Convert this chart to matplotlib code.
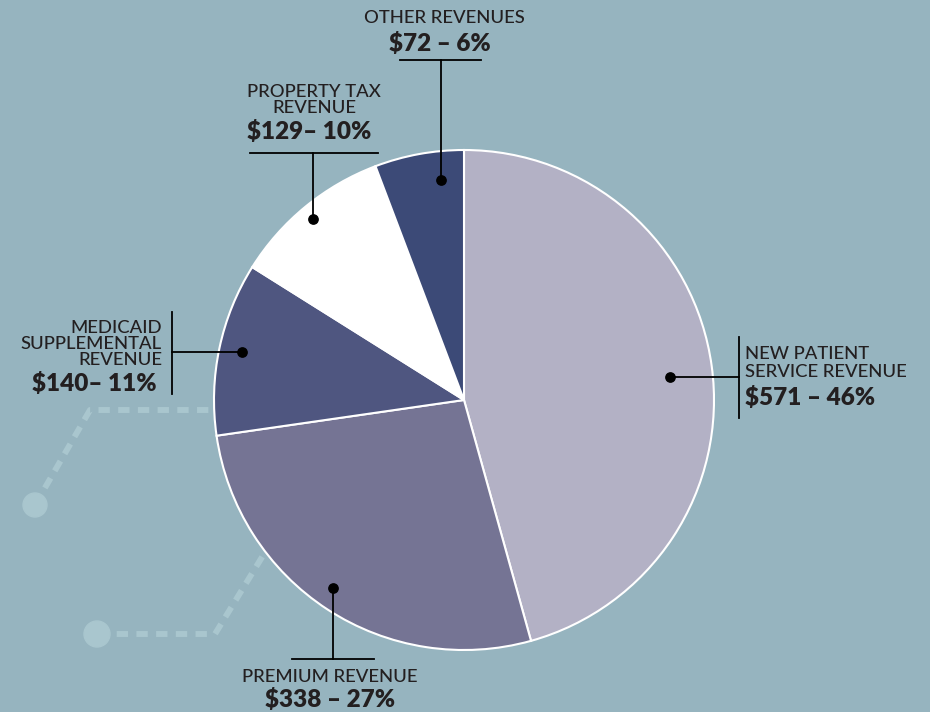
import matplotlib
matplotlib.use("Agg")
import matplotlib.pyplot as plt
from matplotlib.patches import Circle

# data
names = ["NEW PATIENT\nSERVICE REVENUE", "PREMIUM REVENUE",
         "MEDICAID\nSUPPLEMENTAL\nREVENUE", "PROPERTY TAX\nREVENUE",
         "OTHER REVENUES"]
amounts = [571, 338, 140, 129, 72]
value_labels = ["$571 – 46%", "$338 – 27%", "$140– 11%", "$129– 10%", "$72 – 6%"]
colors = ["#B3B1C5", "#757494", "#4F5680", "#FFFFFF", "#3C4A77"]

BG = "#96B4BF"
TXT = "#231F20"
DECO = "#A9C6CE"
NAME_FS = 13.3
VAL_FS = 17.5

plt.rcParams['font.family'] = ['Lato', 'DejaVu Sans']

fig = plt.figure(figsize=(9.3, 7.12), dpi=100, facecolor=BG)
ax = fig.add_axes([0, 0, 1, 1])
ax.set_facecolor(BG)

# y axis is inverted below, so counterclock in data == clockwise on screen
wedges, _ = ax.pie(amounts, colors=colors, startangle=-90, counterclock=True,
                   center=(464, 400), radius=250,
                   wedgeprops=dict(edgecolor="white", linewidth=1.5))
for w in wedges:
    w.set_zorder(2)

# pie() resets limits, so set pixel coords (y down) afterwards
ax.set_xlim(0, 930)
ax.set_ylim(712, 0)
ax.set_aspect("equal")
ax.axis("off")

# decorative dashed paths behind the pie
for xs, ys, cx, cy, r in [([35, 90, 300], [505, 410, 410], 35, 505, 12),
                          ([97, 215, 300], [634, 634, 495], 97, 634, 13)]:
    ax.plot(xs, ys, color=DECO, lw=4.3, dashes=(1.9, 1.4),
            solid_capstyle="butt", zorder=1)
    ax.add_patch(Circle((cx, cy), r, color=DECO, zorder=1))

line_kw = dict(color="black", lw=1.3, zorder=4)
dot_kw = dict(color="black", zorder=5, s=45)
name_kw = dict(fontsize=NAME_FS, color=TXT, fontweight="medium")
val_kw = dict(fontsize=VAL_FS, color=TXT, fontweight="heavy")

# new patient service revenue
ax.plot([670, 739], [377, 377], **line_kw)
ax.plot([739, 739], [337, 418], **line_kw)
ax.scatter([670], [377], **dot_kw)
ax.text(745, 363, names[0], ha="left", va="center", linespacing=1.17, **name_kw)
ax.text(745, 397, value_labels[0], ha="left", va="center", **val_kw)

# premium revenue
ax.plot([333, 333], [588, 659], **line_kw)
ax.plot([292, 374], [659, 659], **line_kw)
ax.scatter([333], [588], **dot_kw)
ax.text(330, 677, names[1], ha="center", va="center", **name_kw)
ax.text(330, 699, value_labels[1], ha="center", va="center", **val_kw)

# medicaid supplemental revenue
ax.plot([172, 242], [352, 352], **line_kw)
ax.plot([172, 172], [312, 394], **line_kw)
ax.scatter([242], [352], **dot_kw)
ax.text(162, 344, names[2], ha="right", va="center", linespacing=0.98, **name_kw)
ax.text(157, 383, value_labels[2], ha="right", va="center", **val_kw)

# property tax revenue
ax.plot([313, 313], [219, 153], **line_kw)
ax.plot([250, 378], [153, 153], **line_kw)
ax.scatter([313], [219], **dot_kw)
ax.text(314, 100, names[3], ha="center", va="center", linespacing=0.98, **name_kw)
ax.text(309, 132, value_labels[3], ha="center", va="center", **val_kw)

# other revenues
ax.plot([441, 441], [180, 60], **line_kw)
ax.plot([400, 481], [60, 60], **line_kw)
ax.scatter([441], [180], **dot_kw)
ax.text(444, 18, names[4], ha="center", va="center", **name_kw)
ax.text(440, 43, value_labels[4], ha="center", va="center", **val_kw)

fig.savefig("out.png", dpi=100, facecolor=BG)
